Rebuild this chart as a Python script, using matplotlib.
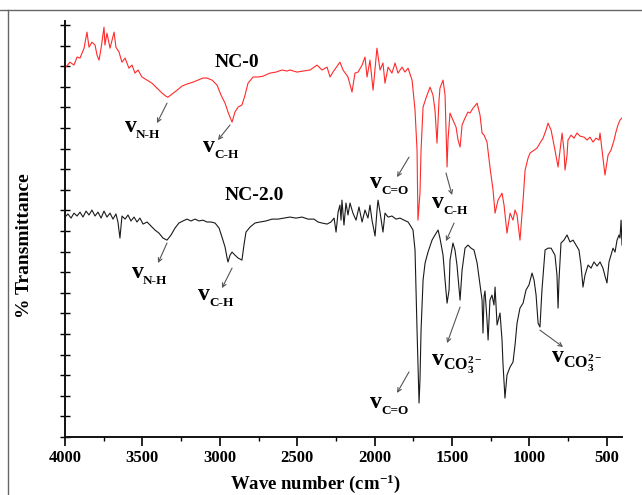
import numpy as np
import matplotlib.pyplot as plt
from matplotlib.lines import Line2D

plt.rcParams['font.family'] = ['Liberation Serif', 'DejaVu Serif']
plt.rcParams['font.weight'] = 'bold'
plt.rcParams['mathtext.fontset'] = 'custom'
plt.rcParams['mathtext.rm'] = 'Liberation Serif:bold'
plt.rcParams['mathtext.it'] = 'Liberation Serif:bold'
plt.rcParams['mathtext.bf'] = 'Liberation Serif:bold'
plt.rcParams['mathtext.default'] = 'rm'

# NC-0 spectrum (red), wave number / transmittance (arbitrary units)
nc0_wn = [4000, 4000, 3968, 3942, 3922, 3903, 3877, 3858, 3845, 3826, 3806, 3793, 3780, 3767, 3748,
          3742, 3729, 3709, 3683, 3671, 3651, 3632, 3612, 3587, 3567, 3548, 3528, 3503, 3470, 3438,
          3406, 3373, 3348, 3335, 3309, 3276, 3244, 3212, 3173, 3141, 3109, 3083, 3050, 3018, 2992,
          2966, 2947, 2921, 2902, 2882, 2857, 2837, 2818, 2785, 2753, 2721, 2676, 2637, 2598, 2566,
          2547, 2501, 2463, 2417, 2372, 2340, 2307, 2288, 2269, 2224, 2204, 2172, 2146, 2127, 2107,
          2081, 2062, 2049, 2030, 2010, 1985, 1965, 1946, 1933, 1913, 1888, 1868, 1849, 1823, 1804,
          1784, 1758, 1739, 1726, 1720, 1707, 1700, 1687, 1668, 1642,
          1623, 1610, 1597, 1584, 1578, 1558, 1545, 1532, 1526, 1513, 1494, 1474, 1461, 1448, 1435,
          1416, 1397, 1384, 1364, 1338, 1319, 1306, 1293, 1274, 1255, 1235, 1222, 1203, 1177, 1164,
          1145, 1125, 1106, 1093, 1080, 1061, 1041, 1028, 1009, 996, 970, 951, 932, 912, 893,
          880, 860, 835, 815, 802, 789, 777, 770, 757, 751, 731, 712, 693, 673, 647,
          628, 609, 589, 570, 550, 544, 531, 512, 492, 473, 453, 441, 428, 415, 402]
nc0_t = [2.67, 17.91, 18.20, 18.06, 18.45, 18.40, 18.88, 19.66, 18.93, 19.17, 19.03, 18.54, 18.30, 18.88, 19.90,
         19.03, 19.61, 18.88, 19.66, 18.93, 18.69, 18.20, 18.40, 17.91, 18.06, 17.67, 17.82, 17.48, 17.33, 17.18,
         16.94, 16.70, 16.55, 16.50, 16.65, 16.84, 17.04, 17.14, 17.23, 17.33, 17.43, 17.43, 17.33, 17.09, 16.60,
         16.21, 15.78, 15.29, 15.78, 16.02, 16.12, 16.60, 17.18, 17.48, 17.48, 17.52, 17.67, 17.72, 17.82, 17.77,
         17.82, 17.72, 17.77, 17.82, 18.06, 17.82, 17.96, 17.48, 17.72, 18.20, 17.82, 17.48, 16.75, 17.67, 17.72,
         18.06, 18.45, 17.48, 18.30, 16.84, 18.88, 17.82, 18.16, 17.18, 17.96, 17.67, 18.16, 17.67, 17.96, 17.72,
         17.91, 17.33, 15.87, 13.93, 10.53, 11.84, 13.93, 16.02, 16.46, 16.99,
         16.60, 15.87, 14.27, 16.36, 16.94, 17.33, 16.60, 13.11, 14.42, 15.73, 15.39, 15.05, 14.42, 14.08, 15.15,
         15.49, 15.78, 15.73, 15.97, 16.21, 15.63, 14.76, 14.66, 14.32, 13.11, 11.99, 10.87, 11.50, 11.84, 11.26,
         9.90, 10.87, 10.53, 11.02, 10.78, 9.56, 11.50, 12.96, 13.54, 13.79, 13.93, 14.03, 14.27, 14.51, 14.90,
         15.24, 14.90, 13.93, 13.11, 13.93, 14.76, 13.93, 12.96, 13.69, 14.42, 14.66, 14.51, 14.76, 14.61, 14.56,
         14.42, 14.56, 14.32, 14.51, 14.42, 14.76, 13.93, 12.72, 13.69, 13.93, 14.42, 14.81, 15.15, 15.39, 15.49]

# NC-2.0 spectrum (black)
nc2_wn = [4000, 3981, 3961, 3942, 3922, 3903, 3884, 3864, 3845, 3826, 3806, 3787, 3767, 3748, 3729,
          3709, 3690, 3671, 3658, 3645, 3632, 3612, 3593, 3574, 3554, 3535, 3516, 3496, 3470, 3444,
          3419, 3393, 3367, 3341, 3315, 3289, 3264, 3238, 3212, 3186, 3160, 3134, 3109, 3083, 3057,
          3031, 3005, 2986, 2966, 2953, 2947, 2934, 2921, 2902, 2882, 2857, 2844, 2831, 2805, 2773,
          2740, 2702, 2663, 2624, 2585, 2547, 2508, 2469, 2430, 2391, 2366, 2340, 2307, 2282, 2262,
          2249, 2236, 2224, 2217, 2211, 2198, 2185, 2172, 2159, 2140, 2120, 2101, 2081, 2062, 2043,
          2030, 2017, 1997, 1985, 1978, 1965, 1946, 1933, 1913, 1888, 1862, 1836, 1810, 1784, 1771,
          1752, 1739, 1726, 1713, 1707, 1700, 1687, 1674, 1655, 1629, 1610, 1590, 1578, 1558, 1545,
          1532, 1519, 1513, 1494, 1481, 1468, 1448, 1435, 1416, 1397, 1377, 1358, 1338, 1319, 1306,
          1300, 1293, 1287, 1274, 1267, 1255, 1242, 1229, 1222, 1209, 1190, 1177, 1171, 1158, 1145,
          1125, 1106, 1093, 1080, 1061, 1041, 1022, 1003, 983, 970, 957, 944, 932, 919, 899,
          880, 860, 835, 822, 815, 809, 796, 777, 757, 738, 718, 699, 680, 667, 654,
          641, 621, 602, 583, 563, 544, 525, 512, 499, 486, 473, 460, 447, 434, 421,
          415, 408, 402]
nc2_t = [10.68, 10.83, 10.63, 10.87, 10.73, 10.92, 10.68, 10.97, 10.78, 11.02, 10.73, 10.92, 10.63, 10.97, 10.68,
         10.87, 10.58, 10.83, 10.44, 9.66, 10.73, 10.58, 10.78, 10.49, 10.68, 10.44, 10.63, 10.34, 10.44, 10.24,
         10.05, 9.90, 9.66, 9.56, 9.81, 10.15, 10.39, 10.49, 10.58, 10.49, 10.58, 10.49, 10.53, 10.44, 10.44,
         10.39, 10.15, 9.71, 9.22, 8.69, 8.50, 8.83, 8.98, 8.83, 8.69, 8.59, 9.32, 9.95, 10.19, 10.39,
         10.44, 10.49, 10.58, 10.58, 10.63, 10.68, 10.63, 10.68, 10.58, 10.58, 10.44, 10.39, 10.34, 10.44, 10.63,
         9.95, 10.92, 11.26, 10.53, 11.50, 10.29, 11.36, 10.78, 11.36, 10.87, 10.53, 11.17, 10.44, 11.02, 10.63,
         11.26, 10.53, 9.76, 10.97, 11.50, 10.92, 9.95, 10.87, 10.68, 10.73, 10.58, 10.63, 10.53, 10.44, 10.29,
         10.05, 9.08, 5.19, 1.65, 2.77, 5.19, 7.62, 8.45, 8.98, 9.56, 9.81, 10.05, 9.66, 8.83, 7.62,
         6.50, 7.14, 8.59, 9.42, 9.08, 8.35, 6.65, 8.11, 9.17, 9.32, 9.17, 9.08, 8.45, 7.38, 6.65,
         5.05, 6.84, 7.09, 5.68, 4.71, 6.65, 6.89, 6.41, 7.28, 5.44, 6.02, 4.71, 3.59, 1.89, 3.01,
         3.40, 3.64, 4.47, 5.53, 6.26, 6.50, 7.14, 7.38, 7.96, 7.62, 6.89, 5.53, 5.34, 7.14, 9.08,
         9.17, 9.17, 8.83, 7.86, 6.26, 7.62, 9.42, 9.56, 9.81, 9.47, 9.56, 9.32, 9.08, 8.35, 7.28,
         7.86, 8.35, 8.20, 8.50, 8.30, 8.50, 8.20, 7.82, 7.48, 8.50, 8.83, 9.17, 8.98, 9.56, 9.81,
         9.66, 10.53, 9.32]

x_major = [4000, 3500, 3000, 2500, 2000, 1500, 1000, 500]

fig = plt.figure(figsize=(6.42, 4.95), dpi=100)
ax = fig.add_axes([65 / 642, 58 / 495, 557 / 642, 416 / 495])

ax.plot(nc0_wn, nc0_t, color='#ff2a2a', lw=0.8)
ax.plot(nc2_wn, nc2_t, color='#1a1a1a', lw=0.8)

ax.set_xlim(4000, 402)
ax.set_ylim(0, 20.2)
ax.set_xticks(x_major)
ax.set_xticks(np.arange(3750, 400, -500), minor=True)
ax.set_yticks(np.arange(0, 21, 1))
ax.set_yticklabels([])
ax.tick_params(axis='x', which='major', direction='out', length=6.5, width=1.2, pad=3, labelsize=12)
ax.tick_params(axis='x', which='minor', direction='out', length=3, width=1.0)
ax.tick_params(axis='y', direction='inout', length=7, width=1.0)
for lab in ax.get_xticklabels():
    lab.set_fontweight('bold')

for s in ['top', 'right']:
    ax.spines[s].set_visible(False)
for s in ['left', 'bottom']:
    ax.spines[s].set_linewidth(1.4)
    ax.spines[s].set_color('#111111')

ax.set_xlabel('Wave number (cm$^{-1}$)', fontsize=13.5, fontweight='bold')
ax.xaxis.set_label_coords((315 - 65) / 557, -0.085)
ax.set_ylabel('% Transmittance', fontsize=14, fontweight='bold')
ax.yaxis.set_label_coords(-0.058, 0.46)

ax.text(2889, 18.2, 'NC-0', fontsize=14, fontweight='bold', ha='center', va='center')
ax.text(2779, 11.75, 'NC-2.0', fontsize=14, fontweight='bold', ha='center', va='center')

arrow_kw = dict(arrowstyle='->', color='#555555', lw=0.8, shrinkA=0, shrinkB=0,
                mutation_scale=7)


def nu_label(x, y, sub, tail=None, head=None, size=9.5):
    ax.text(x, y, 'v', fontsize=17, fontweight='bold', ha='left', va='baseline')
    ax.annotate(sub, (x, y), xytext=(8, -4), textcoords='offset points',
                fontsize=size, fontweight='bold', ha='left', va='baseline')
    if tail is not None:
        ax.annotate('', xy=head, xytext=tail, arrowprops=arrow_kw)


# NC-0 bands
nu_label(3612, 14.81, 'N-H', (3341, 16.21), (3406, 15.24))
nu_label(3109, 13.83, 'C-H', (2934, 15.15), (3012, 14.42))
nu_label(2030, 12.09, 'C=O', (1778, 13.59), (1855, 12.62))
nu_label(1629, 11.12, 'C-H', (1539, 12.82), (1500, 11.75))
ax.annotate('', xy=(1539, 9.51), xytext=(1487, 10.39), arrowprops=arrow_kw)

# NC-2.0 bands
nu_label(3567, 7.72, 'N-H', (3341, 9.42), (3399, 8.45))
nu_label(3141, 6.65, 'C-H', (2921, 8.20), (2986, 7.23))
nu_label(1629, 3.50, r'CO$_3^{2-}$', (1448, 6.31), (1532, 4.56), size=11.5)
nu_label(854, 3.64, r'CO$_3^{2-}$', (932, 5.19), (783, 4.37), size=11.5)
nu_label(2030, 1.41, 'C=O', (1778, 3.16), (1855, 2.14))

# thin frame of the original figure (top and left edges)
fig.add_artist(Line2D([0, 1], [1 - 10 / 495, 1 - 10 / 495], color='#666666', lw=1.0))
fig.add_artist(Line2D([8 / 642, 8 / 642], [0, 1 - 10 / 495], color='#666666', lw=1.0))

fig.savefig('out.png', dpi=100)
